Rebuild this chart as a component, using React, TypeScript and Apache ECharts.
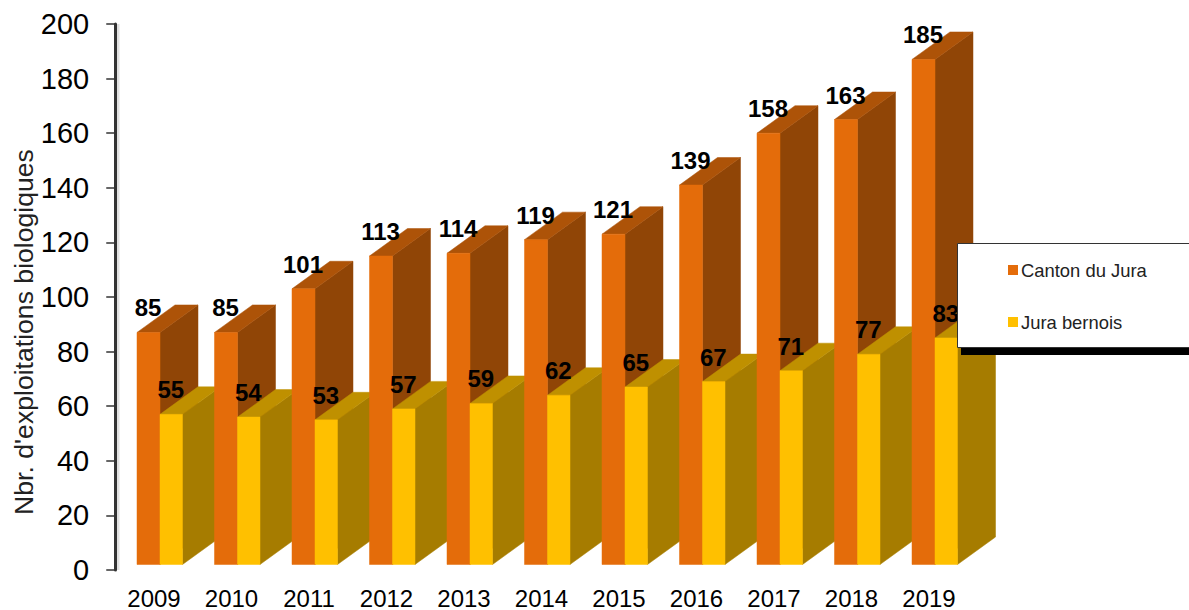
import React, { useEffect, useRef } from "react";
import * as echarts from "echarts";

const years = ["2009", "2010", "2011", "2012", "2013", "2014", "2015", "2016", "2017", "2018", "2019"];
const cantonDuJura = [85, 85, 101, 113, 114, 119, 121, 139, 158, 163, 185];
const juraBernois = [55, 54, 53, 57, 59, 62, 65, 67, 71, 77, 83];

const FONT = '"Liberation Sans", Arial, sans-serif';
const DEPTH_X = 38;
const DEPTH_Y = -27.5;
const PLANE_SHIFT_Y = -5.5;

const bar3d = (
  values: number[],
  startOffset: number,
  width: number,
  labelOffset: number,
  front: string,
  top: string,
  side: string,
  order: number
) => (params: any, api: any) => {
  const i = params.dataIndex;
  const v = values[i];
  const base = api.coord([i, 0]);
  const head = api.coord([i, v]);
  const x0 = base[0] + startOffset;
  const x1 = x0 + width;
  const yb = base[1] + PLANE_SHIFT_Y;
  const yt = head[1] + PLANE_SHIFT_Y;
  const z2 = i * 2 + order;
  const poly = (points: number[][], fill: string) => ({
    type: "polygon",
    z2,
    shape: { points },
    style: { fill, stroke: fill, lineWidth: 0.5 },
  });
  return {
    type: "group",
    children: [
      poly(
        [
          [x1, yt],
          [x1 + DEPTH_X, yt + DEPTH_Y],
          [x1 + DEPTH_X, yb + DEPTH_Y],
          [x1, yb],
        ],
        side
      ),
      poly(
        [
          [x0, yt],
          [x0 + DEPTH_X, yt + DEPTH_Y],
          [x1 + DEPTH_X, yt + DEPTH_Y],
          [x1, yt],
        ],
        top
      ),
      poly(
        [
          [x0, yt],
          [x1, yt],
          [x1, yb],
          [x0, yb],
        ],
        front
      ),
      {
        type: "text",
        z2: 100,
        x: x0 + width / 2 + labelOffset,
        y: yt - 24.5,
        style: {
          text: String(v),
          fill: "#000",
          font: `bold 24px ${FONT}`,
          align: "center",
          verticalAlign: "middle",
        },
      },
    ],
  };
};

export default function App() {
  const ref = useRef<HTMLDivElement>(null);
  useEffect(() => {
    const chart = echarts.init(ref.current!, undefined, { renderer: "svg" });
    chart.setOption({
      animation: false,
      backgroundColor: "#fff",
      grid: { left: 115.25, top: 24, width: 852.5, height: 546, containLabel: false, outerBoundsMode: "none" },
      xAxis: {
        type: "category",
        data: years,
        axisLine: { show: false },
        axisTick: { show: false },
        axisLabel: { color: "#000", fontFamily: FONT, fontSize: 24, margin: 16 },
      },
      yAxis: {
        type: "value",
        min: 0,
        max: 200,
        interval: 20,
        name: "Nbr. d'exploitations biologiques",
        nameLocation: "middle",
        nameGap: 78,
        nameMoveOverlap: false,
        nameTextStyle: { color: "#222", fontFamily: FONT, fontSize: 26.6, padding: [0, 70, 0, 0] },
        splitLine: { show: false },
        axisLine: {
          show: true,
          lineStyle: { color: "#333", width: 3 },
        },
        axisTick: { show: true, length: 9, lineStyle: { color: "#333", width: 1.5 } },
        axisLabel: { color: "#000", fontFamily: FONT, fontSize: 29, margin: 26 },
      },
      legend: {
        z: 110,
        orient: "vertical",
        left: 1003,
        top: 256,
        icon: "rect",
        itemWidth: 10,
        itemHeight: 10,
        itemGap: 34,
        selectedMode: false,
        textStyle: { color: "#222", fontFamily: FONT, fontSize: 18.4, padding: [0, 0, 0, -2] },
        data: ["Canton du Jura", "Jura bernois"],
      },
      graphic: {
        z: 105,
        elements: [
          {
            type: "rect",
            z: 1,
            shape: { x: 116.5, y: 24, width: 3, height: 546 },
            style: { fill: "rgba(0,0,0,0.12)" },
          },
          { type: "rect", z: 105, shape: { x: 961, y: 248, width: 300, height: 107 }, style: { fill: "#000" } },
          {
            type: "rect",
            z: 106,
            shape: { x: 957.5, y: 243.5, width: 300, height: 104 },
            style: { fill: "#fff", stroke: "#333", lineWidth: 1 },
          },
        ],
      },
      series: [
        {
          name: "Canton du Jura",
          type: "custom",
          itemStyle: { color: "#E46C0A" },
          data: years.map((y, i) => [y, cantonDuJura[i]]),
          encode: { x: 0, y: 1 },
          clip: false,
          renderItem: bar3d(cantonDuJura, -17, 23, -0.5, "#E46C0A", "#AD5308", "#904506", 0),
        },
        {
          name: "Jura bernois",
          type: "custom",
          itemStyle: { color: "#FFC000" },
          data: years.map((y, i) => [y, juraBernois[i]]),
          encode: { x: 0, y: 1 },
          clip: false,
          renderItem: bar3d(juraBernois, 6, 22.5, -0.5, "#FFC000", "#BF9000", "#A67C00", 1),
        },
      ],
    });
    return () => chart.dispose();
  }, []);
  return <div ref={ref} style={{ position: "absolute", left: 0, top: 0, width: 1189, height: 610 }} />;
}
